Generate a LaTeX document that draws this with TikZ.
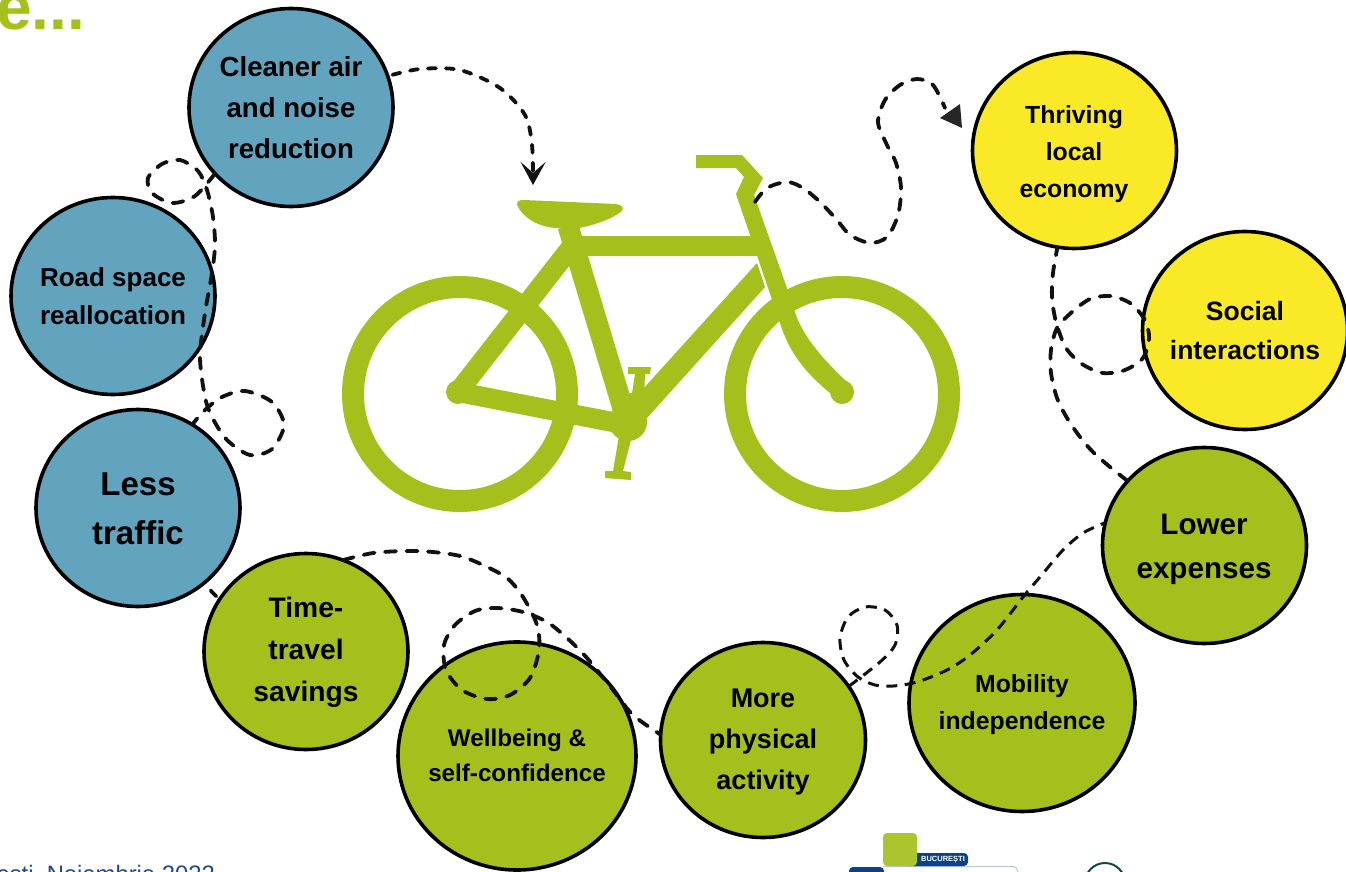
\documentclass[tikz,border=0pt]{standalone}
\usepackage{fontspec}
\setmainfont{Liberation Sans}
\usetikzlibrary{shapes.geometric,arrows.meta}
\definecolor{bikegreen}{HTML}{A5C01C}
\definecolor{bubblue}{HTML}{62A3BE}
\definecolor{bubyellow}{HTML}{F9E927}
\definecolor{dashink}{HTML}{111111}
\definecolor{navy}{HTML}{1F4A86}
\definecolor{logoblue}{HTML}{0F4285}
\definecolor{logoline}{HTML}{B8C8DC}
\definecolor{sealgreen}{HTML}{0F4A3C}
\tikzset{
  bub/.style={ellipse,draw=black,line width=3.6pt,inner sep=0pt,outer sep=0pt},
  bubtext/.style={align=center,text=black,inner sep=0pt},
  dashcurve/.style={draw=dashink,line width=3.8pt,dash pattern=on 11pt off 10.5pt,line cap=round},
  thincurve/.style={draw=dashink,line width=3pt,dash pattern=on 11pt off 7.5pt},
  frametube/.style={draw=bikegreen,line width=20pt},
  wheel/.style={draw=bikegreen,line width=22pt},
}
\newcommand{\fs}[2]{\fontsize{#1}{#2}\selectfont\bfseries}
\begin{document}
\begin{tikzpicture}[x=1pt,y=-1pt]
\useasboundingbox (0,0) rectangle (1346,872);
\clip (0,0) rectangle (1346,872);
\fill[white] (0,0) rectangle (1346,872);

% cropped title and footer
\node[anchor=base west,inner sep=0pt,text=bikegreen,font=\fs{64}{64}] (title) at (-4,30) {e...};
\node[anchor=base east,inner sep=0pt,text=navy,font=\fontsize{23.8}{24}\selectfont] (foot) at (215,882) {ești, Noiembrie 2022};

% logo fragments
\draw[logoline,line width=1pt,rounded corners=5pt] (883,866.5) -- (1018,866.5) -- (1018,880);
\fill[logoblue,rounded corners=4pt] (849,880) -- (849,867) -- (884,867) -- (884,880) -- cycle;
\fill[logoblue,rounded corners=4pt] (905,853) -- (968,853) -- (968,866) -- (905,866) -- cycle;
\fill[bikegreen!92!white,rounded corners=4pt] (883,833) rectangle (917,866);
\node[text=white,inner sep=0pt,font=\fs{7.5}{8}] (logotext) at (943,860) {BUCUREȘTI};
\draw[sealgreen,line width=2pt] (1105,883) circle (20);

% bicycle
\draw[wheel] (460,394) circle (107);
\draw[wheel] (842,394) circle (107);
\draw[frametube] (458,392) -- (576,241);
\draw[frametube] (458,392) -- (628,425);
\draw[frametube,line width=21pt] (568,226) -- (628,425);
\draw[frametube] (562,246) -- (765,246);
\fill[bikegreen] (757,263) -- (643,389) -- (625,395) -- (630,430) -- (647,418) -- (765,287) -- cycle;
\fill[bikegreen] (736,194) -- (744,177) -- (736,168) -- (696,168) -- (696,155) -- (742,155) -- (763,178) -- (754,195) -- (787,288) -- (797,318) .. controls (807,342) and (828,364) .. (847,382) -- (835,397) .. controls (803,372) and (788,350) .. (779,320) -- cycle;
\fill[bikegreen] (517,205) .. controls (517,201) and (519,200) .. (524,200) -- (616,204) .. controls (622,205) and (624,208) .. (622,211) .. controls (612,219) and (595,225) .. (579,228) -- (555,228) .. controls (535,226) and (522,216) .. (517,205) -- cycle;
\fill[bikegreen] (458,392) circle (12);
\fill[bikegreen] (842,392) circle (12);
\fill[bikegreen] (628,422) circle (19);
\fill[bikegreen] (628,367) -- (651,367) -- (650,374) -- (645,374) -- (644,400) -- (631,400) -- (635,374) -- (628,374) -- cycle;
\fill[bikegreen] (619,436) -- (632,436) -- (623,471) -- (631,472) -- (631,480) -- (605,478) -- (605,471) -- (613,471) -- cycle;
\coordinate (bikebar) at (755,202);

% bubbles
\node[bub,fill=bubblue,minimum width=204pt,minimum height=198pt] (cleaner) at (291,107.5) {};
\node[bub,fill=bubblue,minimum width=204pt,minimum height=197pt] (road) at (113,296) {};
\node[bub,fill=bubblue,minimum width=204pt,minimum height=197pt] (less) at (138,508) {};
\node[bub,fill=bikegreen,minimum width=204pt,minimum height=196pt] (time) at (306,651.5) {};
\node[bub,fill=bikegreen,minimum width=238pt,minimum height=228pt] (well) at (517,756) {};
\node[bub,fill=bikegreen,minimum width=205pt,minimum height=195pt] (more) at (763,740) {};
\node[bub,fill=bikegreen,minimum width=226pt,minimum height=217pt] (mob) at (1022,703) {};
\node[bub,fill=bikegreen,minimum width=204pt,minimum height=196pt] (lower) at (1204.5,545.5) {};
\node[bub,fill=bubyellow,minimum width=204pt,minimum height=196pt] (thrive) at (1074.5,150.5) {};
\node[bub,fill=bubyellow,minimum width=205pt,minimum height=198pt] (social) at (1245,330.5) {};

\node[bubtext,font=\fs{27.6}{41}] (tcleaner) at (291,108) {Cleaner air\\and noise\\reduction};
\node[bubtext,font=\fs{26}{38}] (troad) at (113,296) {Road space\\reallocation};
\node[bubtext,font=\fs{33}{49}] (tless) at (138,509) {Less\\traffic};
\node[bubtext,font=\fs{28.2}{42}] (ttime) at (306,652) {Time-\\travel\\savings};
\node[bubtext,font=\fs{24.2}{35}] (twell) at (517,755) {Wellbeing \&\\self-confidence};
\node[bubtext,font=\fs{27}{41}] (tmore) at (763,742) {More\\physical\\activity};
\node[bubtext,font=\fs{24.8}{37}] (tmob) at (1022,705) {Mobility\\independence};
\node[bubtext,font=\fs{29.6}{44}] (tlower) at (1204,549) {Lower\\expenses};
\node[bubtext,font=\fs{24.8}{37}] (tthrive) at (1074,154) {Thriving\\local\\economy};
\node[bubtext,font=\fs{26.5}{39}] (tsocial) at (1245,330.5) {Social\\interactions};

% connectors
\draw[dashcurve,dash pattern=on 8pt off 10pt,dash phase=13pt,-{Stealth[length=23pt,width=25pt,inset=11pt]}]
  plot[smooth] coordinates {(cleaner.18) (420,69) (460,70) (500,88) (525,115) (532,145) (533,185)};
\draw[dashcurve]
  plot[smooth] coordinates {(cleaner.221) (195,196) (172,203) (152,193) (148,178) (162,164) (180,160) (198,171) (207,190) (213,217) (215,245) (212,273) (205,313) (200,357) (205,397) (212,417) (227,440) (250,455) (272,449) (284,425) (272,402) (245,391) (222,397) (205,410) (less.57)};
\draw[dashcurve,dash pattern=on 0pt off 10pt on 8pt off 30pt] (less.311) -- (time.149);
\draw[dashcurve]
  plot[smooth] coordinates {(time.68) (373,553) (407,551) (433,552) (460,556) (483,565) (507,578) (523,597) (537,625) (539,650) (530,678) (510,695) (487,699) (462,690) (446,670) (444,645) (455,625) (475,611) (497,608) (523,612) (547,622) (567,638) (587,658) (613,690) (633,715) (more.177)};
\draw[thincurve]
  plot[smooth] coordinates {(more.32) (880,662) (895,645) (897,625) (885,610) (865,607) (848,617) (840,638) (844,660) (858,677) (875,685) (893,686) (917,682) (947,670) (970,655) (997,630) (1023,597) (1040,577) (1063,550) (1083,533) (lower.167)};
\draw[dashcurve]
  plot[smooth] coordinates {(lower.140) (1110,467) (1093,452) (1080,437) (1067,418) (1057,398) (1051,373) (1051,350) (1057,328) (1072,312) (1090,299) (1110,296) (1130,303) (1145,320) (1149,338) (1143,358) (1125,370) (1103,373) (1082,364) (1066,348) (1056,322) (1052,297) (1053,273) (thrive.260)};
\draw[dashcurve]
  plot[smooth] coordinates {(bikebar) (767,188) (787,182) (803,188) (820,202) (837,220) (850,235) (870,243) (887,237) (898,215) (901,188) (896,163) (886,143) (878,122) (885,100) (900,85) (917,79) (933,85) (945,108)};
\fill[black!85!white] (940,118) -- (960,104) -- (962,128) -- cycle;
\end{tikzpicture}
\end{document}
